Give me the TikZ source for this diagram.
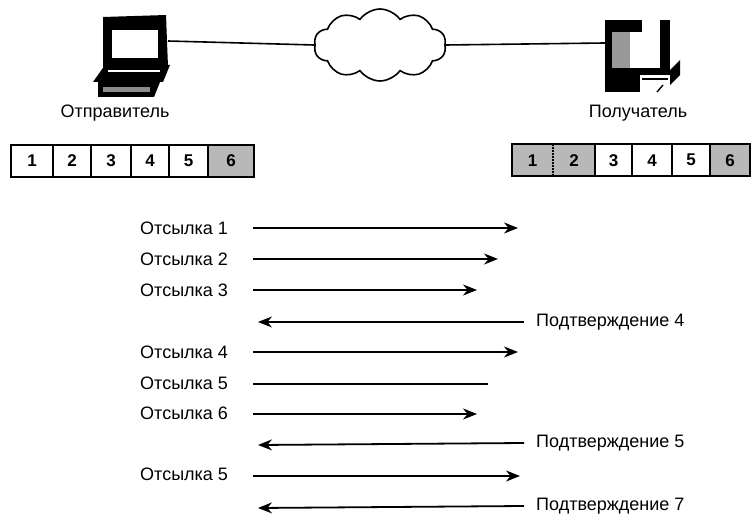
\documentclass[tikz,border=0pt]{standalone}
\usepackage{fontspec}
\setmainfont{Liberation Sans}
\usetikzlibrary{shapes.symbols,arrows.meta}
\begin{document}
\begin{tikzpicture}[x=1pt,y=-1pt,
  lbl/.style={font=\fontsize{18}{20}\selectfont, inner sep=0pt},
  cellnum/.style={font=\fontsize{17}{19}\selectfont\bfseries},
  msg/.style={line width=1.8pt, -{Stealth[length=14pt,width=11pt]}},
  bare/.style={line width=1.8pt},
  link/.style={line width=1.6pt},
  frame/.style={line width=2pt},
  shade/.style={fill=black!28},
  dark/.style={fill=black}]
\useasboundingbox (0,0) rectangle (752,521);

% sender workstation
\fill[dark] (103,17) -- (166,15) -- (168,67) -- (103,67) -- cycle;
\fill[white] (112,30) rectangle (158,58);
\fill[dark] (105,65) -- (170,65) -- (163,82) -- (93,82) -- cycle;
\fill[dark] (98,82) -- (160,82) -- (154,97) -- (98,97) -- cycle;
\fill[white] (108,70) rectangle (160,72);
\fill[black!45] (103,87) rectangle (150,92);
\coordinate (sndport) at (168,41);

% receiver workstation
\fill[dark] (605,20) rectangle (642,32);
\fill[dark] (605,32) rectangle (612,68);
\fill[black!40] (612,32) rectangle (630,68);
\fill[dark] (605,68) rectangle (640,92);
\fill[dark] (660,20) rectangle (670,75);
\fill[dark] (630,68) rectangle (670,75);
\fill[dark] (670,70) -- (680,60) -- (680,75) -- (670,85) -- cycle;
\draw[line width=1.4pt] (642,79) -- (668,79);
\draw[line width=1.4pt] (657,92) -- (663,85);
\coordinate (rcvport) at (605,43);

% network cloud
\node[cloud, draw, line width=1.6pt, cloud puffs=10, cloud puff arc=110,
      aspect=1.9, minimum width=132pt, minimum height=72pt, inner sep=0pt]
      (net) at (380,45) {};
\draw[link] (sndport) -- (net.west);
\draw[link] (net.east) -- (rcvport);

% captions
\node[lbl] (sndname) at (115,113) {Отправитель};
\node[lbl] (rcvname) at (638,113) {Получатель};

% sender window
\fill[shade] (207,144) rectangle (253,176);
\foreach \i/\a/\b in {1/10/52, 2/52/90, 3/90/130, 4/130/168, 5/168/207, 6/207/253} {
  \node[cellnum, draw, frame, minimum width={\b-\a}, minimum height=32pt,
        inner sep=0pt, anchor=north west] (s\i) at (\a,144) {\i};
}

% receiver window
\fill[shade] (512,144) rectangle (595,176);
\fill[shade] (710,144) rectangle (750,176);
\foreach \i/\a/\b in {1/512/553, 2/553/595, 3/595/632, 4/632/672, 5/672/710, 6/710/750} {
  \node[cellnum, minimum width={\b-\a}, minimum height=32pt,
        inner sep=0pt, anchor=north west] (r\i) at (\a,144) {\i};
}
\draw[frame] (r1.north west) rectangle (r6.south east);
\foreach \i in {3,4,5,6} \draw[frame] (r\i.north west) -- (r\i.south west);
\draw[frame, densely dotted] (r2.north west) -- (r2.south west);

% message labels
\foreach \n/\t/\y in {m1/Отсылка 1/228, m2/Отсылка 2/259, m3/Отсылка 3/290,
                      m4/Отсылка 4/352, m5/Отсылка 5/383, m6/Отсылка 6/413,
                      m7/Отсылка 5/474} {
  \node[lbl, anchor=west] (\n) at (140,\y) {\t};
}
\foreach \n/\t/\y in {a4/Подтверждение 4/322, a5/Подтверждение 5/443, a7/Подтверждение 7/506} {
  \node[lbl, anchor=west] (\n) at (536,\y) {\t};
}

% transfer arrows
\coordinate (e1) at (518,228);
\coordinate (e2) at (498,259);
\coordinate (e3) at (477,290);
\coordinate (e4) at (518,352);
\coordinate (e5) at (488,384);
\coordinate (e6) at (477,414);
\coordinate (e7) at (520,476);
\draw[msg] (253,228) -- (e1);
\draw[msg] (253,259) -- (e2);
\draw[msg] (253,290) -- (e3);
\draw[msg] (253,352) -- (e4);
\draw[bare] (253,384) -- (e5);
\draw[msg] (253,414) -- (e6);
\draw[msg] (253,476) -- (e7);
\coordinate (k4) at (258,322);
\coordinate (k5) at (258,445);
\coordinate (k7) at (258,508);
\draw[msg] (a4.west) ++(-12,0) -- (k4);
\draw[msg] (a5.west) ++(-12,0) -- (k5);
\draw[msg] (a7.west) ++(-12,0) -- (k7);
\end{tikzpicture}
\end{document}
